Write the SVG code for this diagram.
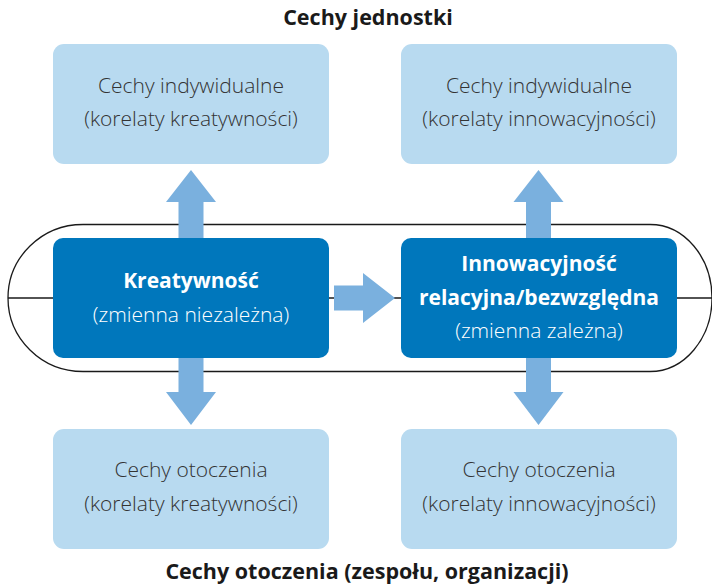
<svg xmlns="http://www.w3.org/2000/svg" width="712" height="587" viewBox="0 0 712 587">
  <style>
    .light { fill: #b8daf0; }
    .dark { fill: #0077bc; }
    .arrow { fill: #7ab0de; }
    .outline { fill: none; stroke: #1a1a1a; stroke-width: 1.3; }
    text { font-family: "Open Sans", "Liberation Sans", sans-serif; text-anchor: middle; font-size: 21px; }
    .title { font-weight: bold; fill: #1a1a1a; font-size: 21.5px; }
    .lt { fill: #333333; font-weight: 300; }
    .wb { font-weight: bold; fill: #ffffff; }
    .wn { fill: #ffffff; font-weight: 300; }
  </style>

  <rect width="712" height="587" fill="#ffffff"/>

  <!-- stadium band and central axis -->
  <g id="band">
    <path class="outline" d="M 83 224.5 L 650 224.5 A 62 73.5 0 0 1 650 371.5 L 83 371.5 A 75 73.5 0 0 1 83 224.5 Z"/>
    <line class="outline" x1="8" y1="298" x2="712" y2="298"/>
  </g>

  <!-- headings -->
  <text class="title" x="368" y="25">Cechy jednostki</text>
  <text class="title" x="367" y="579">Cechy otoczenia (zespołu, organizacji)</text>

  <!-- connectors -->
  <g id="connectors">
    <!-- up arrows -->
    <polygon class="arrow" points="178.5,238 203.5,238 203.5,202 216,202 191,170 166,202 178.5,202"/>
    <polygon class="arrow" points="526,238 551,238 551,202 563.5,202 538.5,170 513.5,202 526,202"/>
    <!-- down arrows -->
    <polygon class="arrow" points="178.5,358 203.5,358 203.5,392 216,392 191,425 166,392 178.5,392"/>
    <polygon class="arrow" points="526,358 551,358 551,392 563.5,392 538.5,425 513.5,392 526,392"/>
    <!-- right arrow -->
    <polygon class="arrow" points="334,285.5 363,285.5 363,273 395,298 363,323 363,310.5 334,310.5"/>
  </g>

  <g id="node-indiv-creat">
    <rect class="light" x="53" y="44" width="276" height="120" rx="11"/>
    <text class="lt" x="191" y="93">Cechy indywidualne</text>
    <text class="lt" x="191" y="126">(korelaty kreatywności)</text>
  </g>

  <g id="node-indiv-innov">
    <rect class="light" x="401" y="44" width="276" height="120" rx="11"/>
    <text class="lt" x="539" y="93">Cechy indywidualne</text>
    <text class="lt" x="539" y="126">(korelaty innowacyjności)</text>
  </g>

  <g id="node-creativity">
    <rect class="dark" x="53" y="238" width="276" height="120" rx="10"/>
    <text class="wb" x="191" y="288">Kreatywność</text>
    <text class="wn" x="191" y="322">(zmienna niezależna)</text>
  </g>

  <g id="node-innovation">
    <rect class="dark" x="401" y="238" width="276" height="120" rx="10"/>
    <text class="wb" x="539" y="271">Innowacyjność</text>
    <text class="wb" x="539" y="305">relacyjna/bezwzględna</text>
    <text class="wn" x="539" y="338">(zmienna zależna)</text>
  </g>

  <g id="node-env-creat">
    <rect class="light" x="53" y="429" width="276" height="120" rx="11"/>
    <text class="lt" x="191" y="477">Cechy otoczenia</text>
    <text class="lt" x="191" y="511">(korelaty kreatywności)</text>
  </g>

  <g id="node-env-innov">
    <rect class="light" x="401" y="429" width="276" height="120" rx="11"/>
    <text class="lt" x="539" y="477">Cechy otoczenia</text>
    <text class="lt" x="539" y="511">(korelaty innowacyjności)</text>
  </g>
</svg>
